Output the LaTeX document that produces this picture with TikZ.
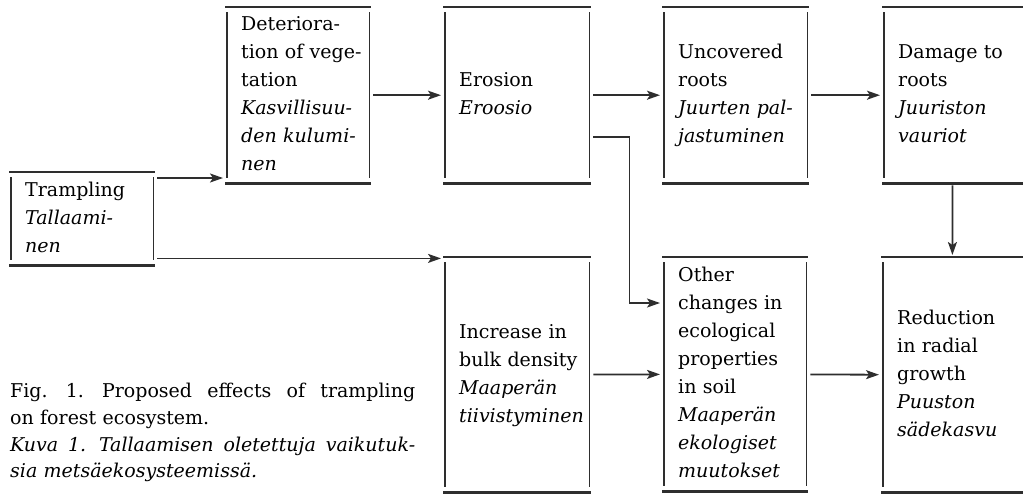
\documentclass[tikz,border=0pt]{standalone}
\usepackage{fontspec}
\setmainfont{DejaVu Serif}
\usetikzlibrary{arrows.meta}

\definecolor{ink}{HTML}{2E2E2E}
\newcommand{\boxlines}[1]{\begin{tabular}{@{}l@{}}#1\end{tabular}}
\newcommand{\fullline}[1]{\makebox[405pt][s]{\spaceskip=0.35em plus 3em\xspaceskip=0.5em plus 3em\relax #1}}

\tikzset{
	box/.style={anchor=north west, inner xsep=16pt, inner ysep=0pt,
		font=\fontsize{19}{28}\selectfont},
	rule/.style={line width=2.4pt, draw=ink},
	side/.style={line width=1.7pt, draw=ink},
	arr/.style={line width=1.8pt, draw=ink, shorten <=2pt, shorten >=2pt,
		-{Stealth[length=13pt,width=9pt,inset=3pt]}},
}

\begin{document}
\begin{tikzpicture}[x=1pt,y=-1pt]

	\useasboundingbox (0,0) rectangle (1023,493);

	% boxes, top row
	\node[box, text width=114pt, minimum height=93pt] (tramp) at (9,172)
		{\boxlines{Trampling\\\textit{Tallaami-}\\\textit{nen}}};
	\node[box, text width=114pt, minimum height=176pt] (veg) at (225,7)
		{\boxlines{Deteriora-\\tion of vege-\\tation\\\textit{Kasvillisuu-}\\\textit{den kulumi-}\\\textit{nen}}};
	\node[box, text width=116pt, minimum height=176pt] (eros) at (443,7)
		{\boxlines{Erosion\\\textit{Eroosio}}};
	\node[box, text width=115pt, minimum height=176pt] (roots) at (662,7)
		{\boxlines{Uncovered\\roots\\\textit{Juurten pal-}\\\textit{jastuminen}}};
	\node[box, text width=109pt, minimum height=176pt] (dmg) at (882,7)
		{\boxlines{Damage to\\roots\\\textit{Juuriston}\\\textit{vauriot}}};

	% boxes, bottom row
	\node[box, text width=116pt, minimum height=235pt] (dens) at (443,257)
		{\boxlines{Increase in\\bulk density\\\textit{Maaperän}\\\textit{tiivistyminen}}};
	\node[box, text width=114pt, minimum height=234pt] (soil) at (662,257)
		{\boxlines{Other\\changes in\\ecological\\properties\\in soil\\\textit{Maaperän}\\\textit{ekologiset}\\\textit{muutokset}}};
	\node[box, text width=110pt, minimum height=235pt] (growth) at (881,257)
		{\boxlines{Reduction\\in radial\\growth\\\textit{Puuston}\\\textit{sädekasvu}}};

	% box rules
	\foreach \b in {tramp,veg,eros,roots,dmg,dens,soil,growth}{
		\draw[rule] (\b.north west) -- (\b.north east);
		\draw[rule] (\b.south west) -- (\b.south east);
		\draw[side] ([shift={(2pt,-5pt)}]\b.north west) -- ([shift={(2pt,5pt)}]\b.south west);
	}
	\foreach \b in {tramp,veg,eros,roots,dens,soil}
		\draw[side] ([shift={(-2pt,-5pt)}]\b.north east) -- ([shift={(-2pt,5pt)}]\b.south east);

	% arrows
	\draw[arr] (tramp.north east) ++(0,6) coordinate (t1) -- (t1 -| veg.west);
	\draw[arr] (tramp.south east) ++(0,-7) coordinate (t2) -- (t2 -| dens.west);
	\draw[arr] (veg) -- (eros);
	\draw[arr] (eros) -- (roots);
	\draw[arr] (roots) -- (dmg.west);
	\draw[arr] (eros.east) ++(0,42) coordinate (e1) -- ++(38,0) |- ([yshift=-46pt]soil.north west);
	\draw[arr] (dmg) -- (growth);
	\draw[arr] (dens) -- (soil);
	\draw[arr] (soil) -- (growth.west);

	% caption
	\node[anchor=north west, inner sep=0pt, text width=405pt,
		font=\fontsize{19}{26.7}\selectfont] (cap) at (10,383)
		{\fullline{Fig. 1. Proposed effects of trampling}\\
		on forest ecosystem.\\
		\fullline{\itshape Kuva 1. Tallaamisen oletettuja vaikutuk-}\\
		\textit{sia metsäekosysteemissä.}};

\end{tikzpicture}
\end{document}
